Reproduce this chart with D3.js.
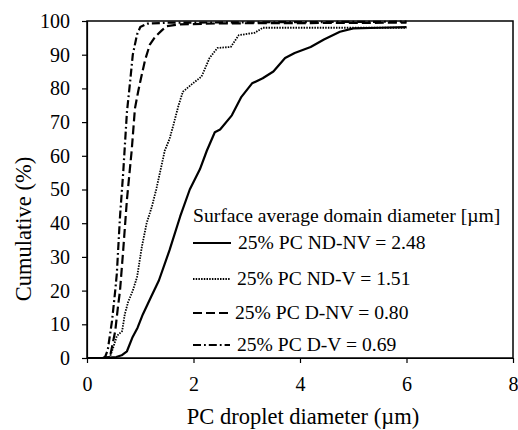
<!DOCTYPE html>
<html>
<head>
<meta charset="utf-8">
<script src="https://cdn.jsdelivr.net/npm/d3@7"></script>
<style>
  html, body { margin: 0; padding: 0; background: #fff; }
</style>
</head>
<body>
<svg id="chart" width="518" height="430"></svg>
<script>
// Cumulative droplet size distributions (x in µm, y in %)
const ndnvX = [0, 0.3, 0.55, 0.65, 0.75, 0.85, 0.95, 1.05, 1.2, 1.35, 1.55, 1.75, 1.93, 2.12, 2.25, 2.4, 2.5, 2.72, 2.9, 3.1, 3.3, 3.5, 3.72, 3.9, 4.2, 4.45, 4.75, 5.0, 5.5, 6.0];
const ndnvY = [0, 0, 0.3, 0.8, 2, 6, 9, 13, 18, 23, 32, 42, 50, 56, 61.5, 67, 67.8, 72, 77.5, 81.5, 83, 85, 89, 90.5, 92.3, 94.5, 96.8, 97.8, 98, 98.2];

const ndvX = [0, 0.3, 0.43, 0.49, 0.56, 0.66, 0.71, 0.77, 0.86, 0.94, 1.03, 1.12, 1.22, 1.3, 1.37, 1.46, 1.55, 1.62, 1.72, 1.8, 1.95, 2.15, 2.22, 2.3, 2.45, 2.7, 2.85, 3.15, 3.3, 6.0];
const ndvY = [0, 0, 0.3, 3, 6.5, 8, 13, 16.5, 20, 24, 33, 40, 45, 50, 55, 61.5, 65, 69, 75, 79, 81, 83.5, 86, 89, 92, 92.3, 95.8, 96.5, 98, 98];

const dnvX = [0, 0.3, 0.43, 0.47, 0.53, 0.58, 0.62, 0.68, 0.75, 0.84, 0.9, 0.96, 1.0, 1.09, 1.18, 1.28, 1.41, 1.5, 1.75, 2.5, 6.0];
const dnvY = [0, 0, 0.3, 3.3, 8, 15, 20, 32, 47, 61.7, 74, 79, 82, 88.4, 93, 95.3, 97.3, 98.5, 99, 99.3, 99.5];

const dvX = [0, 0.3, 0.34, 0.39, 0.47, 0.53, 0.56, 0.62, 0.68, 0.75, 0.81, 0.86, 0.94, 1.0, 1.13, 1.5, 6.0];
const dvY = [0, 0, 0.3, 2.4, 11, 20, 25, 42, 55, 73, 82, 90, 96, 98.2, 99.2, 99.5, 99.8];

const seriesNames = ["25% PC ND-NV = 2.48", "25% PC ND-V = 1.51", "25% PC D-NV = 0.80", "25% PC D-V = 0.69"];
const xTicks = [0, 2, 4, 6, 8];
const yTicks = [0, 10, 20, 30, 40, 50, 60, 70, 80, 90, 100];
const legendTitle = "Surface average domain diameter [\u00b5m]";
const xTitle = "PC droplet diameter (\u00b5m)";
const yTitle = "Cumulative (%)";

const textFont = '"Liberation Serif", Tinos, "Times New Roman", FreeSerif';
const plotLeft = 87, plotRight = 513, plotTop = 21, plotBottom = 358;
const svg = d3.select("#chart");
const x = d3.scaleLinear().domain([0, 8]).range([plotLeft, plotRight]);
const y = d3.scaleLinear().domain([0, 100]).range([plotBottom, plotTop]);

const styles = [
  { width: 2.2, dash: null },
  { width: 1.8, dash: "1.5,1.2" },
  { width: 2.2, dash: "9,4" },
  { width: 2.2, dash: "8,3,1.8,3" }
];
const data = [[ndnvX, ndnvY], [ndvX, ndvY], [dnvX, dnvY], [dvX, dvY]];

// plot frame
svg.append("rect")
  .attr("x", plotLeft).attr("y", plotTop)
  .attr("width", plotRight - plotLeft).attr("height", plotBottom - plotTop)
  .attr("fill", "none").attr("stroke", "#000").attr("stroke-width", 1.5);

// axes
const yAxis = svg.append("g")
  .attr("transform", `translate(${plotLeft},0)`)
  .call(d3.axisLeft(y).tickValues(yTicks).tickSize(5).tickSizeOuter(0).tickPadding(12));
const xAxis = svg.append("g")
  .attr("transform", `translate(0,${plotBottom})`)
  .call(d3.axisBottom(x).tickValues(xTicks).tickSize(5).tickSizeOuter(0).tickPadding(14));
[yAxis, xAxis].forEach(g => {
  g.attr("font-family", null).attr("font-size", null);
  g.select(".domain").attr("stroke", "#000").attr("stroke-width", 1.2);
  g.selectAll(".tick line").attr("stroke", "#000").attr("stroke-width", 1.2);
  g.selectAll(".tick text")
    .style("font-family", textFont).style("font-size", "20px").attr("fill", "#000");
});

// curves
const line = d3.line().x(d => x(d[0])).y(d => y(d[1]));
data.forEach((s, i) => {
  const pts = s[0].map((v, k) => [v, s[1][k]]);
  svg.append("path")
    .datum(pts)
    .attr("d", line)
    .attr("fill", "none")
    .attr("stroke", "#000")
    .attr("stroke-width", styles[i].width)
    .attr("stroke-dasharray", styles[i].dash)
    .attr("stroke-linejoin", "round");
});

// axis titles
svg.append("text")
  .attr("x", 303).attr("y", 424)
  .attr("text-anchor", "middle")
  .style("font-family", textFont).style("font-size", "22.5px")
  .text(xTitle);
svg.append("text")
  .attr("transform", "translate(31,229) rotate(-90)")
  .attr("text-anchor", "middle")
  .style("font-family", textFont).style("font-size", "22.5px")
  .text(yTitle);

// legend
svg.append("text")
  .attr("x", 193).attr("y", 222)
  .style("font-family", textFont).style("font-size", "19.6px")
  .text(legendTitle);
const rowY = [243, 279, 313, 345];
const lineEnd = [231, 230, 232, 230];
const textX = [238, 237, 235, 237];
seriesNames.forEach((name, i) => {
  svg.append("line")
    .attr("x1", 193).attr("x2", lineEnd[i])
    .attr("y1", rowY[i]).attr("y2", rowY[i])
    .attr("stroke", "#000")
    .attr("stroke-width", styles[i].width)
    .attr("stroke-dasharray", styles[i].dash);
  svg.append("text")
    .attr("x", textX[i]).attr("y", rowY[i] + 6)
    .style("font-family", textFont).style("font-size", "19.6px")
    .text(name);
});
</script>
</body>
</html>
